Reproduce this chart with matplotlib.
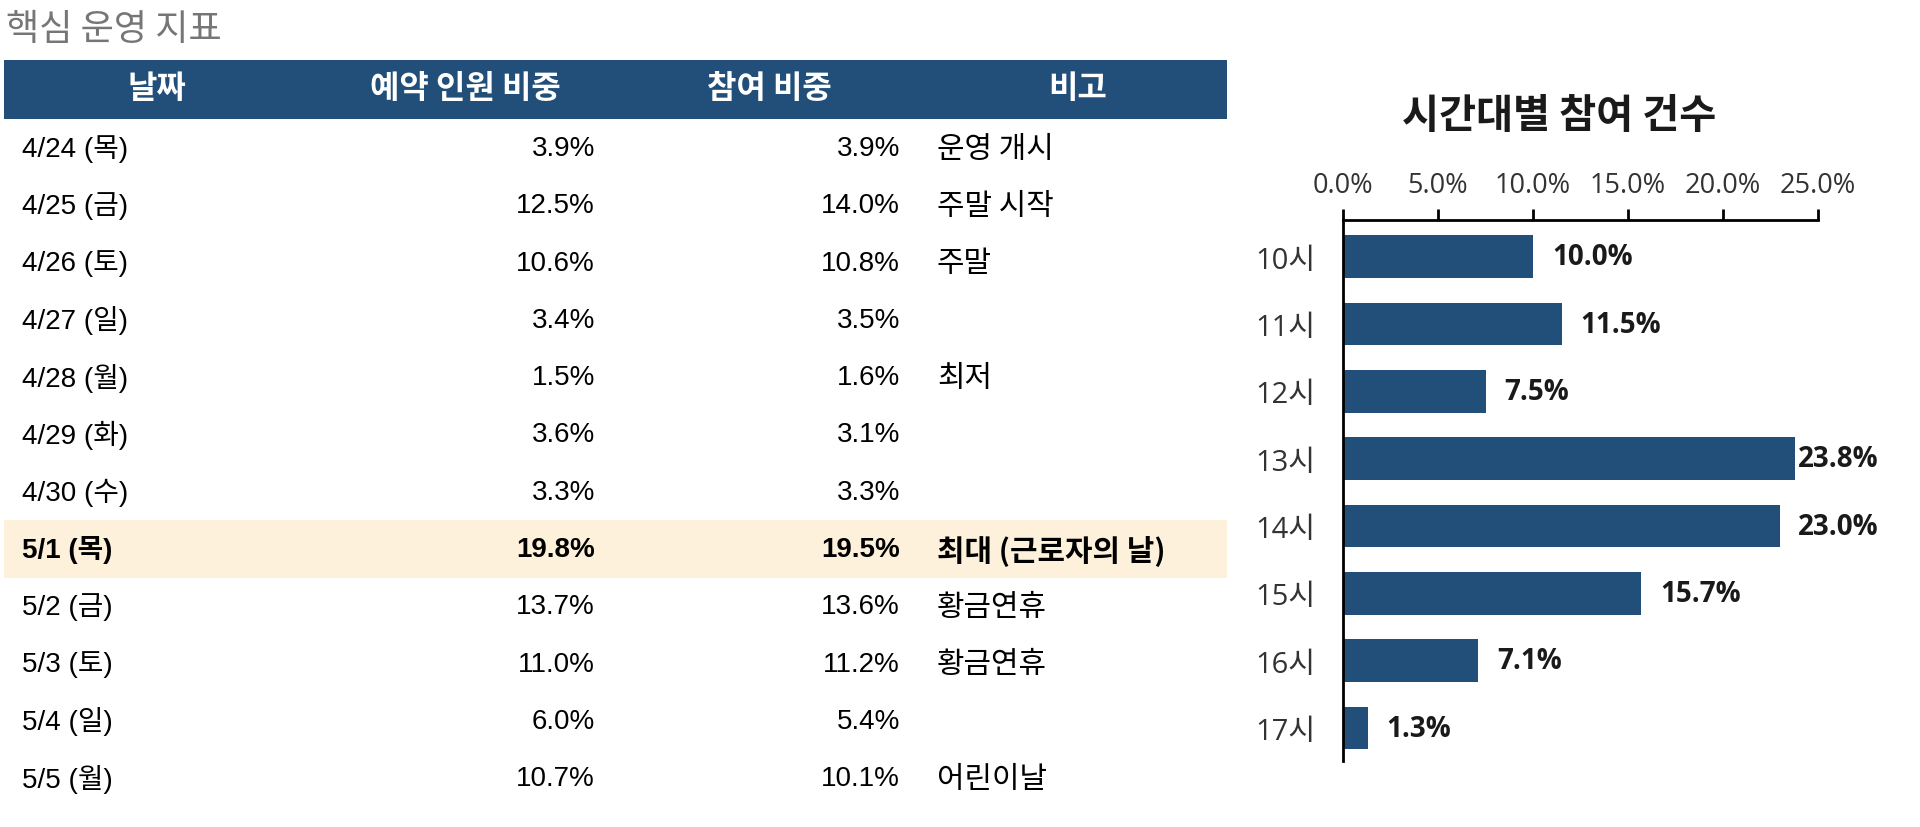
import matplotlib
matplotlib.use("Agg")
import matplotlib.pyplot as plt
from matplotlib.patches import Rectangle

# 데이터
dates = ["4/24 (목)", "4/25 (금)", "4/26 (토)", "4/27 (일)", "4/28 (월)", "4/29 (화)",
         "4/30 (수)", "5/1 (목)", "5/2 (금)", "5/3 (토)", "5/4 (일)", "5/5 (월)"]
reserve_share = [3.9, 12.5, 10.6, 3.4, 1.5, 3.6, 3.3, 19.8, 13.7, 11.0, 6.0, 10.7]
join_share = [3.9, 14.0, 10.8, 3.5, 1.6, 3.1, 3.3, 19.5, 13.6, 11.2, 5.4, 10.1]
notes = ["운영 개시", "주말 시작", "주말", "", "최저", "", "", "최대 (근로자의 날)",
         "황금연휴", "황금연휴", "", "어린이날"]
headers = ["날짜", "예약 인원 비중", "참여 비중", "비고"]
highlight_row = 7

hours = ["10시", "11시", "12시", "13시", "14시", "15시", "16시", "17시"]
hour_share = [10.0, 11.5, 7.5, 23.8, 23.0, 15.7, 7.1, 1.3]

NAVY = "#214f7a"
HL = "#fdf1dc"
TBL_FONT = ["Liberation Sans", "Noto Sans CJK KR"]
KR_FONT = ["Noto Sans CJK KR", "DejaVu Sans"]
CH_FONT = ["Open Sans", "Noto Sans CJK KR"]

W, H = 1920, 828
fig = plt.figure(figsize=(W / 100, H / 100), dpi=100)

# 표 (픽셀 좌표)
ax_t = fig.add_axes([0, 0, 1, 1])
ax_t.set_xlim(0, W)
ax_t.set_ylim(H, 0)
ax_t.axis("off")

ax_t.text(6, 30, "핵심 운영 지표", fontsize=26, color="#767676",
          family=KR_FONT, va="center", ha="left")

ax_t.add_patch(Rectangle((4, 61), 1223, 58.5, color=NAVY, lw=0))
header_x = [157, 465, 769, 1078]
for hx, h in zip(header_x, headers):
    ax_t.text(hx, 89, h, fontsize=23, color="white", fontweight="bold",
              family=KR_FONT, ha="center", va="center")

row_y0, row_dy = 149, 57.3
for i in range(len(dates)):
    y = row_y0 + i * row_dy
    bold = "bold" if i == highlight_row else "normal"
    if i == highlight_row:
        ax_t.add_patch(Rectangle((4, y - row_dy / 2), 1223, row_dy, color=HL, lw=0))
    ax_t.text(22, y, dates[i], fontsize=20, fontweight=bold, family=TBL_FONT,
              ha="left", va="center")
    ax_t.text(595, y, f"{reserve_share[i]:.1f}%", fontsize=20, fontweight=bold,
              family=TBL_FONT, ha="right", va="center")
    ax_t.text(900, y, f"{join_share[i]:.1f}%", fontsize=20, fontweight=bold,
              family=TBL_FONT, ha="right", va="center")
    ax_t.text(937, y, notes[i], fontsize=21.5, fontweight=bold, family=KR_FONT,
              ha="left", va="center")

# 막대 그래프
x0, x1, yt, yb = 1343, 1818, 221, 762
ax = fig.add_axes([x0 / W, (H - yb) / H, (x1 - x0) / W, (yb - yt) / H])
ypos = list(range(len(hours)))
ax.barh(ypos, hour_share, height=0.63, color=NAVY)
ax.set_xlim(0, 25)
ax.set_ylim(7.49, -0.545)
ax.set_xticks([0, 5, 10, 15, 20, 25])
ax.set_xticklabels([f"{v:.1f}%" for v in [0, 5, 10, 15, 20, 25]])
ax.set_yticks(ypos)
ax.set_yticklabels(hours)
ax.xaxis.tick_top()
for s in ["right", "bottom"]:
    ax.spines[s].set_visible(False)
for s in ["top", "left"]:
    ax.spines[s].set_linewidth(2)
ax.tick_params(axis="x", length=8, width=2, pad=7, labelsize=19.5, labelcolor="#333333")
ax.tick_params(axis="y", length=0, pad=20, labelsize=21, labelcolor="#333333")
for lbl in ax.get_xticklabels() + ax.get_yticklabels():
    lbl.set_family(CH_FONT)

for yp, v in zip(ypos, hour_share):
    ax.text(min(v + 1.0, 23.95), yp, f"{v:.1f}%", fontsize=20, fontweight="bold",
            family=CH_FONT, ha="left", va="center", color="#1a1a1a")

ax_t.text(1559, 116, "시간대별 참여 건수", fontsize=29, fontweight="bold",
          family=KR_FONT, ha="center", va="center", color="#1a1a1a")

fig.savefig("out.png", dpi=100)
